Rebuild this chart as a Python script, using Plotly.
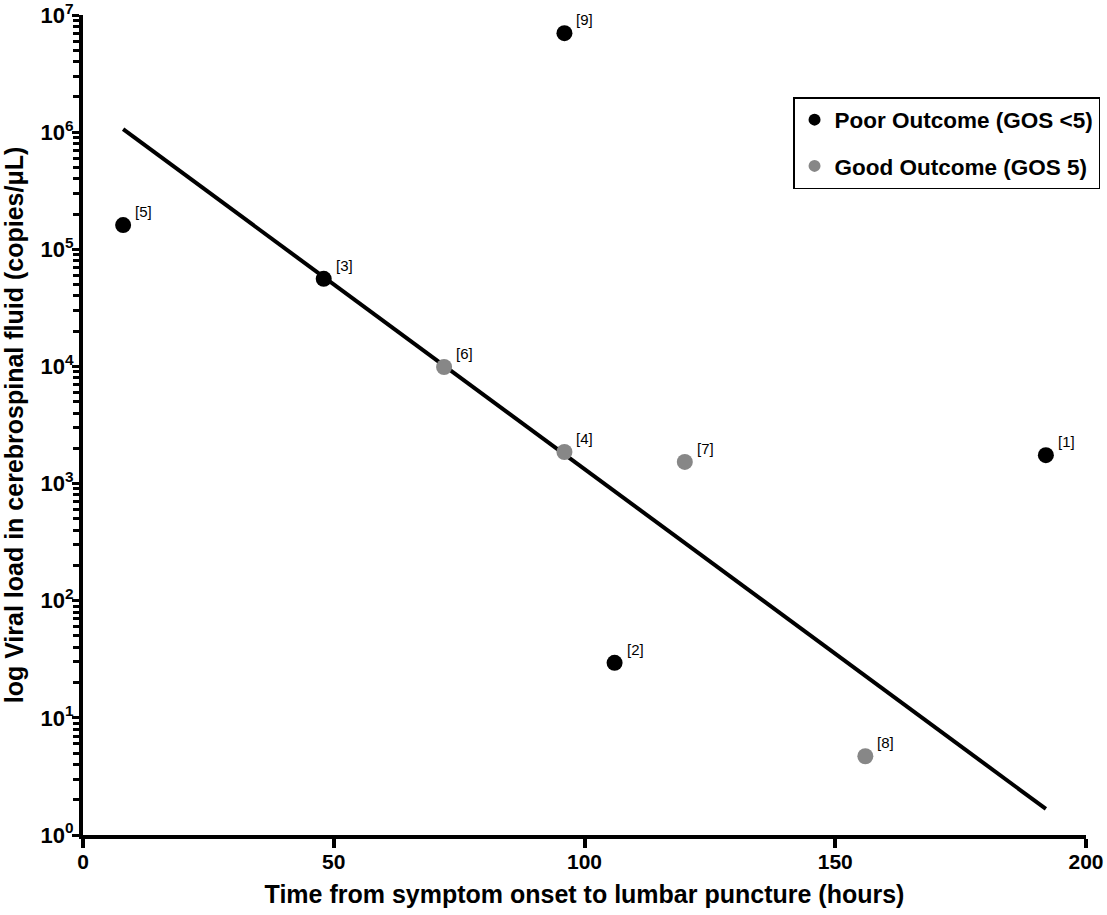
import math
import plotly.graph_objects as go

# Data
poor_x = [192, 106, 48, 8, 96]
poor_y = [1750, 29.5, 56000, 161000, 7000000]
poor_labels = ["[1]", "[2]", "[3]", "[5]", "[9]"]

good_x = [96, 72, 120, 156]
good_y = [1860, 9900, 1530, 4.7]
good_labels = ["[4]", "[6]", "[7]", "[8]"]

fit_x = [8, 192]
fit_y = [1.06e6, 1.67]

y_tickvals = [1, 10, 100, 1000, 1e4, 1e5, 1e6, 1e7]
y_ticktext = ["10<sup>%d</sup>" % i for i in range(8)]
x_tickvals = [0, 50, 100, 150, 200]

FONT = "Liberation Sans, Arial, sans-serif"

fig = go.Figure()

fig.add_trace(go.Scatter(
    x=fit_x, y=fit_y, mode="lines",
    line=dict(color="black", width=4),
    showlegend=False, hoverinfo="skip"))

fig.add_trace(go.Scatter(
    x=poor_x, y=poor_y, mode="markers",
    marker=dict(color="black", size=16),
    name="<b>Poor Outcome (GOS <5)</b>", legendgroup="a"))

fig.add_trace(go.Scatter(
    x=good_x, y=good_y, mode="markers",
    marker=dict(color="#878787", size=16),
    name="<b>Good Outcome (GOS 5)</b>", legendgroup="b"))

for xs, ys, ls in [(poor_x, poor_y, poor_labels), (good_x, good_y, good_labels)]:
    for x, y, l in zip(xs, ys, ls):
        fig.add_annotation(x=x, y=math.log10(y), text=l, showarrow=False,
                           xanchor="left", yanchor="bottom", xshift=10, yshift=3,
                           font=dict(family=FONT, size=15, color="black"))

fig.update_layout(
    width=1107, height=915,
    margin=dict(l=83, r=21, t=15, b=80, autoexpand=False),
    paper_bgcolor="white", plot_bgcolor="white",
    font=dict(family=FONT, color="black"),
    legend=dict(x=1.014, y=0.9, xanchor="right", yanchor="top",
                bordercolor="black", borderwidth=1.5, bgcolor="white",
                font=dict(family=FONT, size=22.5, color="black"),
                tracegroupgap=14, traceorder="grouped",
                itemsizing="constant"),
)

fig.update_xaxes(
    range=[0, 200], tickvals=x_tickvals, automargin=False,
    showline=True, linecolor="black", linewidth=4,
    ticks="outside", ticklen=9, tickwidth=4, tickcolor="black",
    ticklabelstandoff=-4,
    showgrid=False, zeroline=False,
    tickfont=dict(family=FONT, size=21, color="black", weight="bold"),
    title=dict(text="<b>Time from symptom onset to lumbar puncture (hours)</b>",
               font=dict(family=FONT, size=25, color="black"), standoff=14),
)

fig.update_yaxes(
    type="log", range=[0, 7.0005], tickvals=y_tickvals, ticktext=y_ticktext,
    automargin=False, ticklabeloverflow="allow",
    showline=True, linecolor="black", linewidth=4,
    ticks="outside", ticklen=7, tickwidth=3, tickcolor="black",
    ticklabelstandoff=-6,
    minor=dict(ticks="outside", ticklen=6, tickwidth=3, tickcolor="black",
               dtick="D1", showgrid=False),
    showgrid=False, zeroline=False,
    tickfont=dict(family=FONT, size=22, color="black", weight="bold"),
    title=dict(text="<b>log Viral load in cerebrospinal fluid (copies/μL)</b>",
               font=dict(family=FONT, size=25, color="black"), standoff=13),
)

fig.write_html("out.html", config={"displayModeBar": False},
               post_script="document.body.style.margin='0px';")
